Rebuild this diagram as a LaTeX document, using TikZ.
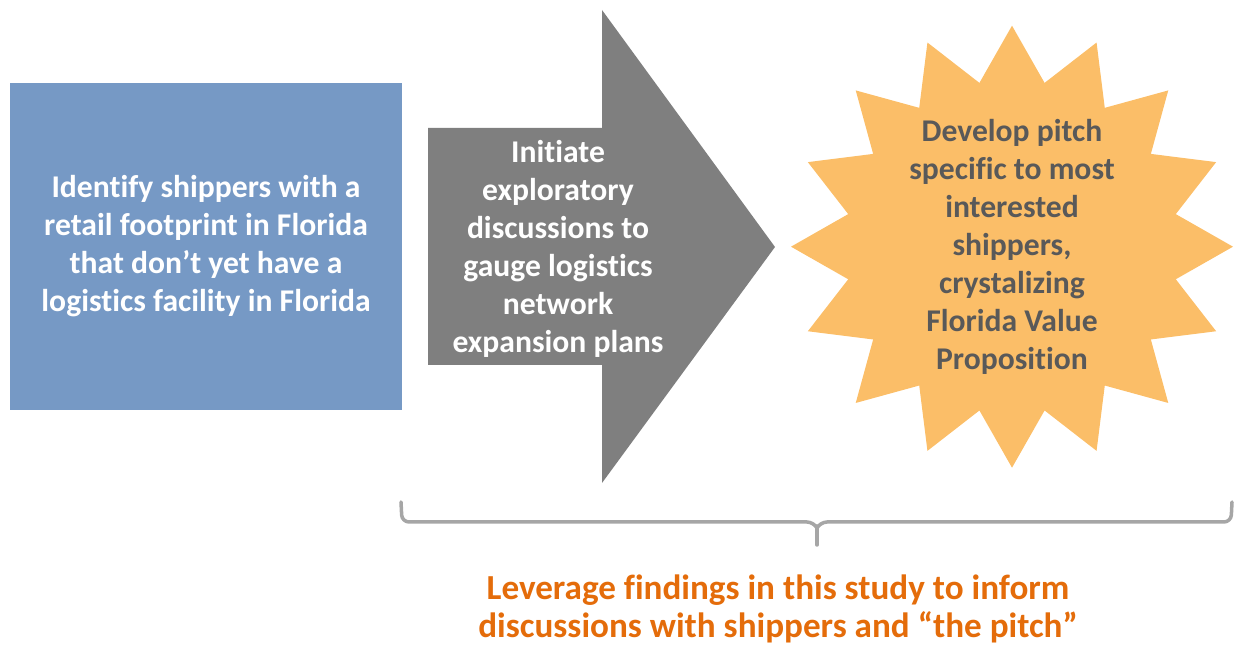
\documentclass[tikz,border=0pt]{standalone}
\usepackage{fontspec}
\setmainfont[Ligatures={NoCommon}]{Carlito}
\usetikzlibrary{positioning}

\definecolor{boxblue}{HTML}{7699C5}
\definecolor{arrowgray}{HTML}{7F7F7F}
\definecolor{starfill}{HTML}{FBBE68}
\definecolor{startext}{HTML}{595959}
\definecolor{bracegray}{HTML}{A6A6A6}
\definecolor{notetext}{HTML}{E46C0A}

\tikzset{
  steptext/.style={align=center, font=\fontsize{9}{10.8}\selectfont\bfseries, inner sep=0pt},
}

\begin{document}
\begin{tikzpicture}[line cap=round, line join=round]
  % frame (fixes the aspect ratio)
  \path (0,0) rectangle (12.35,6.5);

  % Step 1: blue box
  \node[steptext, fill=boxblue, text=white, minimum width=3.92cm, minimum height=3.27cm] (identify) at (2.06,4.035)
    {Identify shippers with a\\retail footprint in Florida\\that don’t yet have a\\logistics facility in Florida};

  % Step 2: gray arrow
  \fill[arrowgray] (4.28,5.22) -- (6.02,5.22) -- (6.02,6.40) -- (7.75,4.03) -- (6.02,1.67) -- (6.02,2.85) -- (4.28,2.85) -- cycle;
  \node[steptext, text=white] (initiate) at (5.58,4.01)
    {Initiate\\exploratory\\discussions to\\gauge logistics\\network\\expansion plans};

  % Step 3: starburst
  \fill[starfill, shift={(10.12,4.033)}] (90:2.21)
    \foreach \k in {0,...,15} { -- ({101.25+\k*22.5}:1.67) -- ({112.5+\k*22.5}:2.21) } -- cycle;
  \node[steptext, text=startext] (pitch) at (10.12,4.03)
    {Develop pitch\\specific to most\\interested\\shippers,\\crystalizing\\Florida Value\\Proposition};

  % Brace under steps 2 and 3
  \draw[bracegray, line width=1pt, rounded corners=2pt]
    (4.01,1.48) -- (4.02,1.28) -- (8.14,1.28) -- (8.17,1.22);
  \draw[bracegray, line width=1pt, rounded corners=2pt]
    (12.32,1.48) -- (12.31,1.28) -- (8.20,1.28) -- (8.17,1.22);
  \draw[bracegray, line width=1pt] (8.17,1.24) -- (8.17,1.05);

  % Note below the brace
  \node[steptext, text=notetext, font=\fontsize{10}{10.8}\selectfont\bfseries] (note) at (7.78,0.41)
    {Leverage findings in this study to inform\\discussions with shippers and “the pitch”};
\end{tikzpicture}
\end{document}
